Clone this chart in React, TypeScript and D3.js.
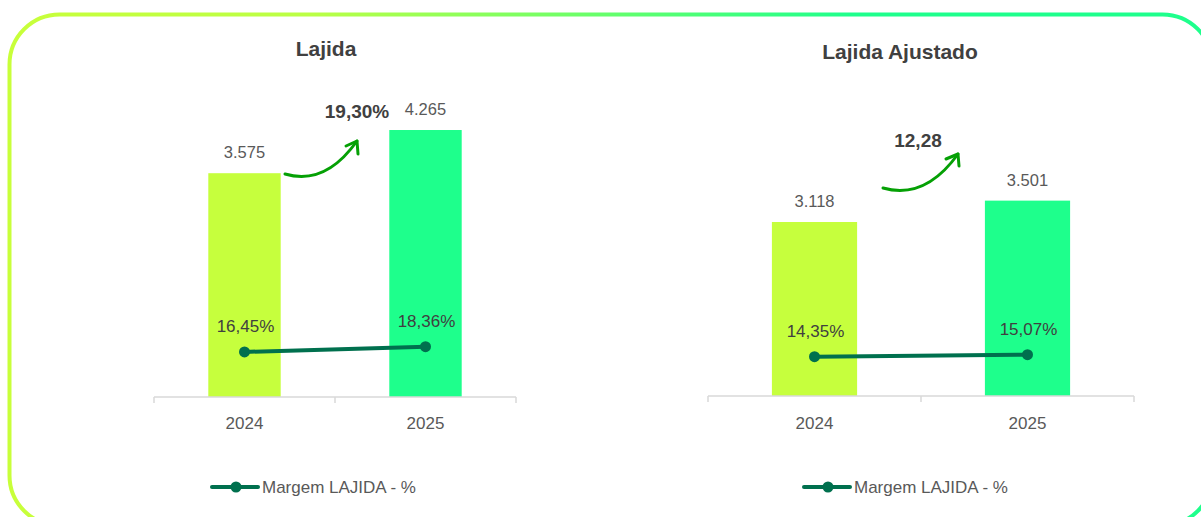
import React from "react";
import * as d3 from "d3";

const years = ["2024", "2025"];
const lajida = [3575, 4265];
const lajidaAjustado = [3118, 3501];
const margemLajida = [16.45, 18.36];
const margemAjustado = [14.35, 15.07];
const titles = ["Lajida", "Lajida Ajustado"];
const growthLabels = ["19,30%", "12,28"];
const legendLabel = "Margem LAJIDA - %";

const W = 1201;
const H = 517;
const FONT = "'Liberation Sans', Arial, sans-serif";
const barColors = ["#C6FF3D", "#1EFF8C"];
const lineColor = "#00704E";
const arrowColor = "#05A005";

const fmtThousands = (v: number) =>
  d3.format(",")(v).replace(/,/g, ".");
const fmtPct = (v: number) => d3.format(".2f")(v).replace(".", ",") + "%";

type PanelCfg = {
  title: string;
  titleX: number;
  titleY: number;
  x0: number;
  x1: number;
  baseY: number;
  yMax: number;
  values: number[];
  margins: number[];
  growth: string;
  growthX: number;
  growthY: number;
  arrow: { sx: number; sy: number; cx: number; cy: number; ex: number; ey: number; a1: [number, number]; a2: [number, number] };
  legendX: number;
};

const panels: PanelCfg[] = [
  {
    title: titles[0],
    titleX: 326,
    titleY: 56,
    x0: 154,
    x1: 516,
    baseY: 397,
    yMax: 4377,
    values: lajida,
    margins: margemLajida,
    growth: growthLabels[0],
    growthX: 357,
    growthY: 118,
    arrow: { sx: 285, sy: 174, cx: 325, cy: 186, ex: 357, ey: 141, a1: [346, 146], a2: [358, 154] },
    legendX: 212,
  },
  {
    title: titles[1],
    titleX: 900,
    titleY: 59,
    x0: 708,
    x1: 1134,
    baseY: 396,
    yMax: 4910,
    values: lajidaAjustado,
    margins: margemAjustado,
    growth: growthLabels[1],
    growthX: 918,
    growthY: 147,
    arrow: { sx: 883, sy: 188, cx: 925, cy: 200, ex: 958, ey: 154, a1: [946, 159], a2: [959, 166] },
    legendX: 804,
  },
];

function Panel({ p }: { p: PanelCfg }) {
  const x = d3.scaleBand<string>().domain(years).range([p.x0, p.x1]).paddingInner(0.6).paddingOuter(0.3);
  const band = (p.x1 - p.x0) / years.length;
  const y = d3.scaleLinear().domain([0, p.yMax]).range([p.baseY, p.baseY - 274]);
  const y2 = d3.scaleLinear().domain([0, 100]).range([p.baseY, p.baseY - 274]);
  const cx = (yr: string) => (x(yr) as number) + x.bandwidth() / 2;
  const line = d3
    .line<number>()
    .x((_, i) => cx(years[i]))
    .y((d) => y2(d));
  const arrowPath = d3.path();
  arrowPath.moveTo(p.arrow.sx, p.arrow.sy);
  arrowPath.quadraticCurveTo(p.arrow.cx, p.arrow.cy, p.arrow.ex, p.arrow.ey);
  const head = d3.path();
  head.moveTo(p.arrow.a1[0], p.arrow.a1[1]);
  head.lineTo(p.arrow.ex, p.arrow.ey);
  head.lineTo(p.arrow.a2[0], p.arrow.a2[1]);
  const ticks = d3.range(years.length + 1).map((i) => p.x0 + i * band);

  return (
    <g>
      <text x={p.titleX} y={p.titleY} textAnchor="middle" fontFamily={FONT} fontWeight="bold" fontSize={21} fill="#404040">
        {p.title}
      </text>
      {years.map((yr, i) => (
        <rect key={yr} x={x(yr)} y={y(p.values[i])} width={x.bandwidth()} height={p.baseY - y(p.values[i])} fill={barColors[i]} />
      ))}
      {years.map((yr, i) => (
        <text key={"v" + yr} x={cx(yr)} y={y(p.values[i]) - 15} textAnchor="middle" fontFamily={FONT} fontSize={16.5} fill="#595959">
          {fmtThousands(p.values[i])}
        </text>
      ))}
      <line x1={p.x0} x2={p.x1} y1={p.baseY} y2={p.baseY} stroke="#d9d9d9" strokeWidth={1.5} />
      {ticks.map((t, i) => (
        <line key={i} x1={t} x2={t} y1={p.baseY} y2={p.baseY + 6} stroke="#d9d9d9" strokeWidth={1.5} />
      ))}
      {years.map((yr) => (
        <text key={"t" + yr} x={cx(yr)} y={429} textAnchor="middle" fontFamily={FONT} fontSize={17} fill="#595959">
          {yr}
        </text>
      ))}
      <path d={line(p.margins) || ""} fill="none" stroke={lineColor} strokeWidth={4} />
      {years.map((yr, i) => (
        <circle key={"c" + yr} cx={cx(yr)} cy={y2(p.margins[i])} r={5.5} fill={lineColor} />
      ))}
      {years.map((yr, i) => (
        <text key={"m" + yr} x={cx(yr) + 1} y={y2(p.margins[i]) - 20} textAnchor="middle" fontFamily={FONT} fontSize={17} fill="#404040">
          {fmtPct(p.margins[i])}
        </text>
      ))}
      <path d={arrowPath.toString()} fill="none" stroke={arrowColor} strokeWidth={3} strokeLinecap="round" />
      <path d={head.toString()} fill="none" stroke={arrowColor} strokeWidth={3} strokeLinecap="round" strokeLinejoin="round" />
      <text x={p.growthX} y={p.growthY} textAnchor="middle" fontFamily={FONT} fontWeight="bold" fontSize={19} fill="#404040">
        {p.growth}
      </text>
      <line x1={p.legendX} x2={p.legendX + 46} y1={487} y2={487} stroke={lineColor} strokeWidth={4} strokeLinecap="round" />
      <circle cx={p.legendX + 24} cy={487} r={5.5} fill={lineColor} />
      <text x={p.legendX + 50} y={493} fontFamily={FONT} fontSize={17} fill="#595959">
        {legendLabel}
      </text>
    </g>
  );
}

export default function App() {
  return (
    <svg width={W} height={H} style={{ position: "absolute", left: 0, top: 0, background: "#fff" }}>
      <defs>
        <linearGradient id="border" x1="0" x2="1" y1="0" y2="0">
          <stop offset="0%" stopColor="#C8FF3A" />
          <stop offset="25%" stopColor="#BBFF45" />
          <stop offset="70%" stopColor="#1EFF8C" />
          <stop offset="100%" stopColor="#1EFF8C" />
        </linearGradient>
      </defs>
      <rect x={0} y={0} width={W} height={H} fill="#fff" />
      <rect x={9.5} y={14.5} width={1203} height={511} rx={50} ry={50} fill="none" stroke="url(#border)" strokeWidth={4} />
      {panels.map((p, i) => (
        <Panel key={i} p={p} />
      ))}
    </svg>
  );
}
